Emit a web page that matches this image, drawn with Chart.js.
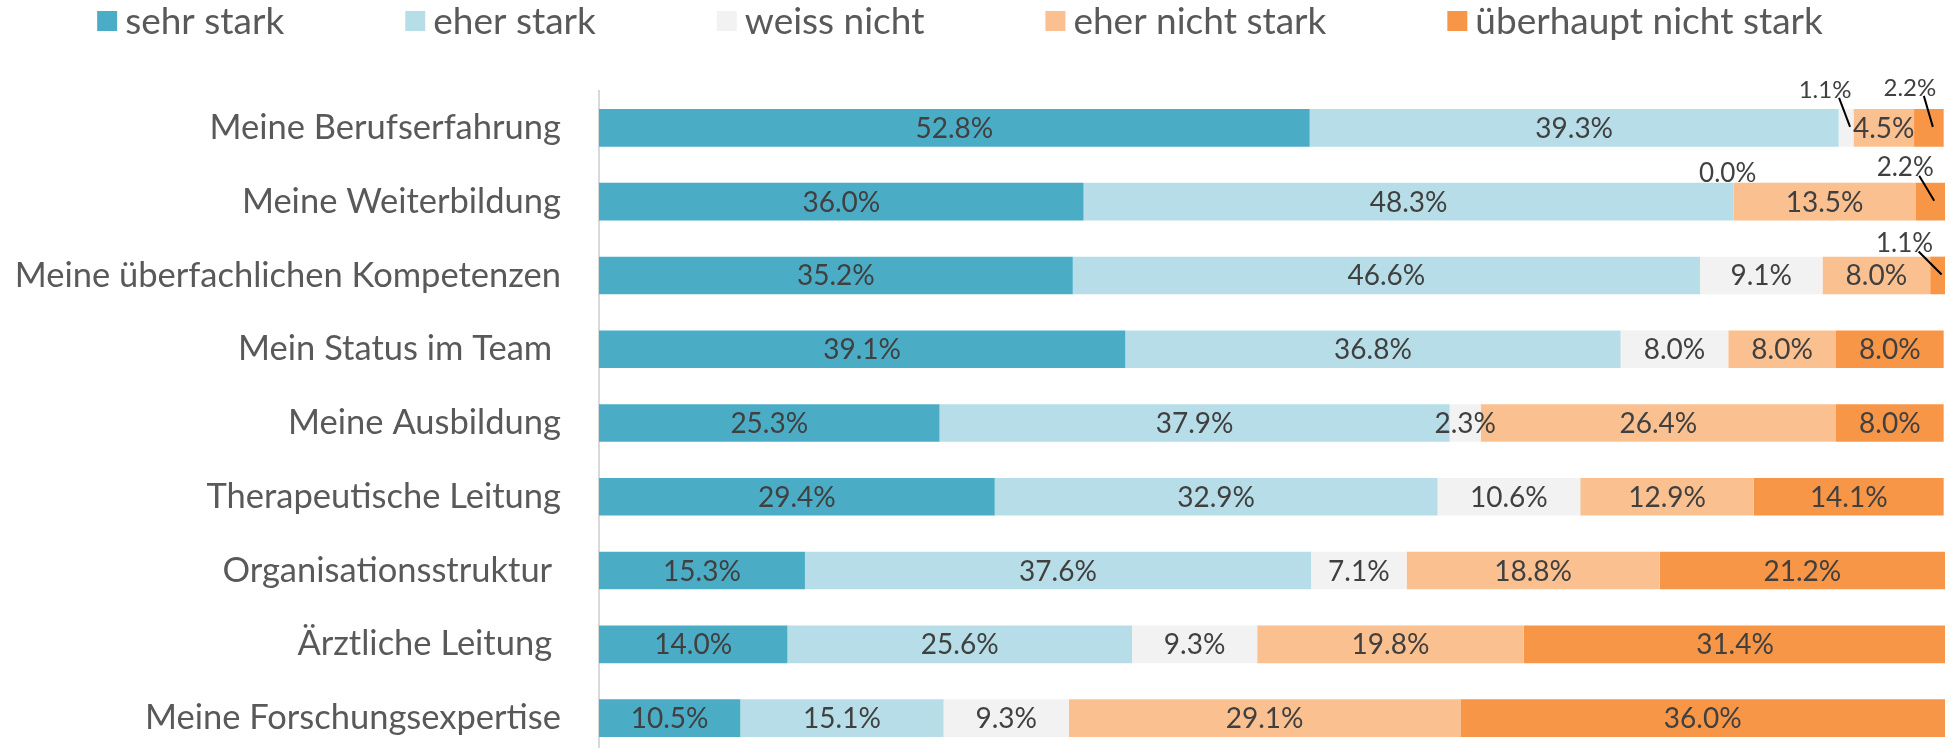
<!DOCTYPE html>
<html>
<head>
<meta charset="utf-8">
<script src="https://cdn.jsdelivr.net/npm/chart.js@4.4.0/dist/chart.umd.min.js"></script>
<style>
  html, body { margin: 0; padding: 0; background: #fff; overflow: hidden; }
  canvas { display: block; }
</style>
</head>
<body>
<canvas id="chart" width="1954" height="756"></canvas>
<script>
const categories = [
    "Meine Berufserfahrung",
    "Meine Weiterbildung",
    "Meine überfachlichen Kompetenzen",
    "Mein Status im Team ",
    "Meine Ausbildung",
    "Therapeutische Leitung",
    "Organisationsstruktur ",
    "Ärztliche Leitung ",
    "Meine Forschungsexpertise"
];
const seriesNames = ["sehr stark", "eher stark", "weiss nicht", "eher nicht stark", "überhaupt nicht stark"];

const sehrStark      = [52.8, 36.0, 35.2, 39.1, 25.3, 29.4, 15.3, 14.0, 10.5];
const eherStark      = [39.3, 48.3, 46.6, 36.8, 37.9, 32.9, 37.6, 25.6, 15.1];
const weissNicht     = [1.1, 0.0, 9.1, 8.0, 2.3, 10.6, 7.1, 9.3, 9.3];
const eherNichtStark = [4.5, 13.5, 8.0, 8.0, 26.4, 12.9, 18.8, 19.8, 29.1];
const ueberhauptNicht = [2.2, 2.2, 1.1, 8.0, 8.0, 14.1, 21.2, 31.4, 36.0];

const colors = ["#4BACC6", "#B7DEE8", "#F2F2F2", "#FAC090", "#F79646"];
const FONT = "Lato, 'Noto Sans', sans-serif";

// small segments get their label above the bar, some with a leader line
// key: "row,series" -> offset of the label from the segment centre
const callouts = {
    "0,2": { dx: -21, dy: -38, size: 24, line: true },
    "0,4": { dx: -19, dy: -40, size: 24, line: true },
    "1,2": { dx: -6, dy: -28, size: 26, line: false },
    "1,4": { dx: -25, dy: -34, size: 26, line: true },
    "2,4": { dx: -33, dy: -32, size: 26, line: true }
};

const segLabels = {
    id: 'segLabels',
    afterDatasetsDraw(chart) {
        const ctx = chart.ctx;
        chart.data.datasets.forEach((ds, si) => {
            const meta = chart.getDatasetMeta(si);
            meta.data.forEach((bar, ri) => {
                const text = ds.data[ri].toFixed(1) + '%';
                const cx = (bar.x + bar.base) / 2;
                const cy = bar.y;
                const c = callouts[ri + ',' + si];
                ctx.save();
                ctx.fillStyle = '#404040';
                ctx.textAlign = 'center';
                ctx.textBaseline = 'middle';
                if (c) {
                    const lx = cx + c.dx, ly = cy + c.dy;
                    if (c.line) {
                        ctx.strokeStyle = '#000';
                        ctx.lineWidth = 2;
                        ctx.beginPath();
                        ctx.moveTo(lx + 14, ly + 8);
                        ctx.lineTo(cx + 4, cy - 1);
                        ctx.stroke();
                    }
                    ctx.font = c.size + 'px ' + FONT;
                    ctx.fillText(text, lx, ly);
                } else {
                    ctx.font = '28px ' + FONT;
                    ctx.fillText(text, cx, cy + 1);
                }
                ctx.restore();
            });
        });
    }
};

const topLegend = {
    id: 'topLegend',
    afterDraw(chart) {
        const ctx = chart.ctx;
        ctx.save();
        ctx.font = '37px ' + FONT;
        const widths = seriesNames.map(n => ctx.measureText(n).width);
        const box = 20, textGap = 8, gap = 121;
        let total = gap * (seriesNames.length - 1);
        widths.forEach(w => total += box + textGap + w);
        let x = 960 - total / 2;
        ctx.textBaseline = 'middle';
        seriesNames.forEach((n, i) => {
            ctx.fillStyle = colors[i];
            ctx.fillRect(x, 11, box, box);
            ctx.fillStyle = '#595959';
            ctx.fillText(n, x + box + textGap, 22);
            x += box + textGap + widths[i] + gap;
        });
        ctx.restore();
    }
};

const seriesData = [sehrStark, eherStark, weissNicht, eherNichtStark, ueberhauptNicht];

new Chart(document.getElementById('chart'), {
    type: 'bar',
    data: {
        labels: categories,
        datasets: seriesNames.map((name, i) => ({
            label: name,
            data: seriesData[i],
            backgroundColor: colors[i],
            borderWidth: 0,
            barPercentage: 0.51,
            categoryPercentage: 1
        }))
    },
    options: {
        indexAxis: 'y',
        responsive: false,
        animation: false,
        layout: { padding: { top: 91, right: 9, bottom: 1, left: 0 } },
        plugins: {
            legend: { display: false },
            tooltip: { enabled: false }
        },
        scales: {
            x: { stacked: true, min: 0, max: 100, display: false },
            y: {
                stacked: true,
                grid: { display: false },
                border: { display: true, color: '#D9D9D9', width: 2 },
                ticks: {
                    color: '#595959',
                    font: { family: FONT, size: 34.5 },
                    padding: 30
                },
                afterFit(scale) {
                    scale.width = 599;
                    // tick padding should not shrink the plot vertically
                    scale.paddingTop = 0;
                    scale.paddingBottom = 0;
                }
            }
        }
    },
    plugins: [segLabels, topLegend]
});
</script>
</body>
</html>
